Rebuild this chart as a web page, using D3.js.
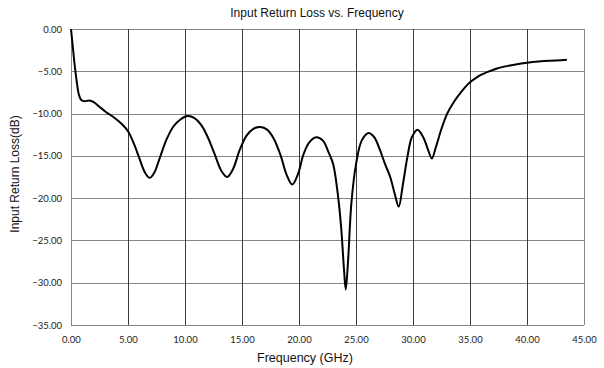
<!DOCTYPE html>
<html>
<head>
<meta charset="utf-8">
<script src="https://cdn.jsdelivr.net/npm/d3@7"></script>
<style>
  html, body { margin: 0; padding: 0; background: #fff; }
  svg { display: block; }
</style>
</head>
<body>
<svg id="chart" width="604" height="368"></svg>
<script>
// Measured input return loss (S11) of the device, frequency in GHz, loss in dB
const freqGHz = [
  0.0, 0.15, 0.3, 0.5, 0.7, 0.9, 1.2, 1.6, 2.0, 2.5, 3.0, 3.5, 4.0, 4.5, 5.0, 5.5,
  6.0, 6.5, 6.9, 7.3, 7.8, 8.4, 9.0, 9.6, 10.2, 10.8, 11.4, 12.0, 12.6, 13.2, 13.7,
  14.2, 14.8, 15.4, 16.0, 16.6, 17.2, 17.8, 18.4, 18.9, 19.4, 19.9, 20.4, 20.9, 21.5,
  22.1, 22.6, 23.0, 23.4, 23.7, 23.95, 24.1, 24.3, 24.6, 25.0, 25.5, 26.1, 26.6, 27.1,
  27.5, 28.0, 28.4, 28.75, 29.1, 29.5, 29.9, 30.4, 30.9, 31.3, 31.65, 32.0, 32.5, 33.0,
  33.6, 34.2, 34.6, 35.0, 35.5, 36.0, 36.5, 37.3, 38.0, 39.0, 40.0, 41.0, 42.0, 43.0, 43.5
];
const returnLossDB = [
  0.0, -2.0, -4.0, -6.2, -7.8, -8.4, -8.55, -8.45, -8.65, -9.2, -9.75, -10.2, -10.7, -11.3, -12.1, -13.5,
  -15.3, -17.0, -17.6, -17.0, -15.2, -13.0, -11.5, -10.7, -10.3, -10.5, -11.3, -12.8, -14.8, -16.8, -17.5,
  -16.6, -14.3, -12.6, -11.8, -11.6, -11.9, -13.0, -15.0, -17.2, -18.4, -17.2, -14.8, -13.4, -12.8,
  -13.2, -14.6, -16.0, -19.5, -23.5, -28.5, -30.8, -27.5, -20.5, -16.0, -13.2, -12.3, -12.8, -14.3,
  -15.8, -17.5, -19.5, -21.0, -18.5, -15.2, -12.8, -11.9, -12.8, -14.2, -15.3, -14.0, -11.8, -10.0,
  -8.6, -7.5, -6.85, -6.3, -5.8, -5.4, -5.1, -4.7, -4.45, -4.2, -4.0, -3.85, -3.75, -3.7, -3.65
];
const xTicks = [0, 5, 10, 15, 20, 25, 30, 35, 40, 45];
const yTicks = [0, -5, -10, -15, -20, -25, -30, -35];

const titleText = "Input Return Loss vs. Frequency";
const xTitleText = "Frequency (GHz)";
const yTitleText = "Input Return Loss(dB)";

const svg = d3.select("#chart");
const plot = { left: 71, right: 584, top: 29, bottom: 325 };

const x = d3.scaleLinear().domain([0, 45]).range([plot.left, plot.right]);
const y = d3.scaleLinear().domain([-35, 0]).range([plot.bottom, plot.top]);

const fmt = d3.format(".2f");
const labelFont = "Lato, 'Liberation Sans', sans-serif";
const titleFont = "'Liberation Sans', Arial, sans-serif";

// Horizontal grid lines
svg.append("g")
  .selectAll("line")
  .data(yTicks)
  .join("line")
  .attr("x1", plot.left).attr("x2", plot.right)
  .attr("y1", d => Math.round(y(d)) + 0.5).attr("y2", d => Math.round(y(d)) + 0.5)
  .attr("stroke", "#858585").attr("stroke-width", 1);

// Vertical grid lines
svg.append("g")
  .selectAll("line")
  .data(xTicks)
  .join("line")
  .attr("x1", d => Math.round(x(d)) + 0.5).attr("x2", d => Math.round(x(d)) + 0.5)
  .attr("y1", plot.top).attr("y2", plot.bottom)
  .attr("stroke", d => (d === 0 || d === 45) ? "#858585" : "#3a3a3a")
  .attr("stroke-width", 1);

// Y axis labels
const yAxis = d3.axisLeft(y).tickValues(yTicks).tickFormat(fmt).tickSize(0).tickPadding(9);
const gy = svg.append("g").attr("transform", `translate(${plot.left},0)`).call(yAxis);
gy.select(".domain").remove();
gy.selectAll("text")
  .attr("font-family", labelFont).attr("font-size", 9.5).attr("fill", "#222");

// X axis labels
const xAxis = d3.axisBottom(x).tickValues(xTicks).tickFormat(fmt).tickSize(0).tickPadding(11);
const gx = svg.append("g").attr("transform", `translate(0,${plot.bottom})`).call(xAxis);
gx.select(".domain").remove();
gx.selectAll("text")
  .attr("font-family", labelFont).attr("font-size", 9.5).attr("fill", "#222");

// Return loss trace
const pts = freqGHz.map((f, i) => [f, returnLossDB[i]]);
const line = d3.line()
  .x(d => x(d[0]))
  .y(d => y(d[1]))
  .curve(d3.curveCatmullRom.alpha(0.5));

svg.append("path")
  .datum(pts)
  .attr("d", line)
  .attr("fill", "none")
  .attr("stroke", "#000")
  .attr("stroke-width", 2)
  .attr("stroke-linejoin", "round");

// Titles
svg.append("text")
  .attr("x", 317).attr("y", 17)
  .attr("text-anchor", "middle")
  .attr("font-family", titleFont).attr("font-size", 12).attr("fill", "#111")
  .text(titleText);

svg.append("text")
  .attr("x", 305).attr("y", 362)
  .attr("text-anchor", "middle")
  .attr("font-family", titleFont).attr("font-size", 12.5).attr("fill", "#111")
  .text(xTitleText);

svg.append("text")
  .attr("transform", "translate(19,174) rotate(-90)")
  .attr("text-anchor", "middle")
  .attr("font-family", titleFont).attr("font-size", 12).attr("fill", "#111")
  .text(yTitleText);
</script>
</body>
</html>
